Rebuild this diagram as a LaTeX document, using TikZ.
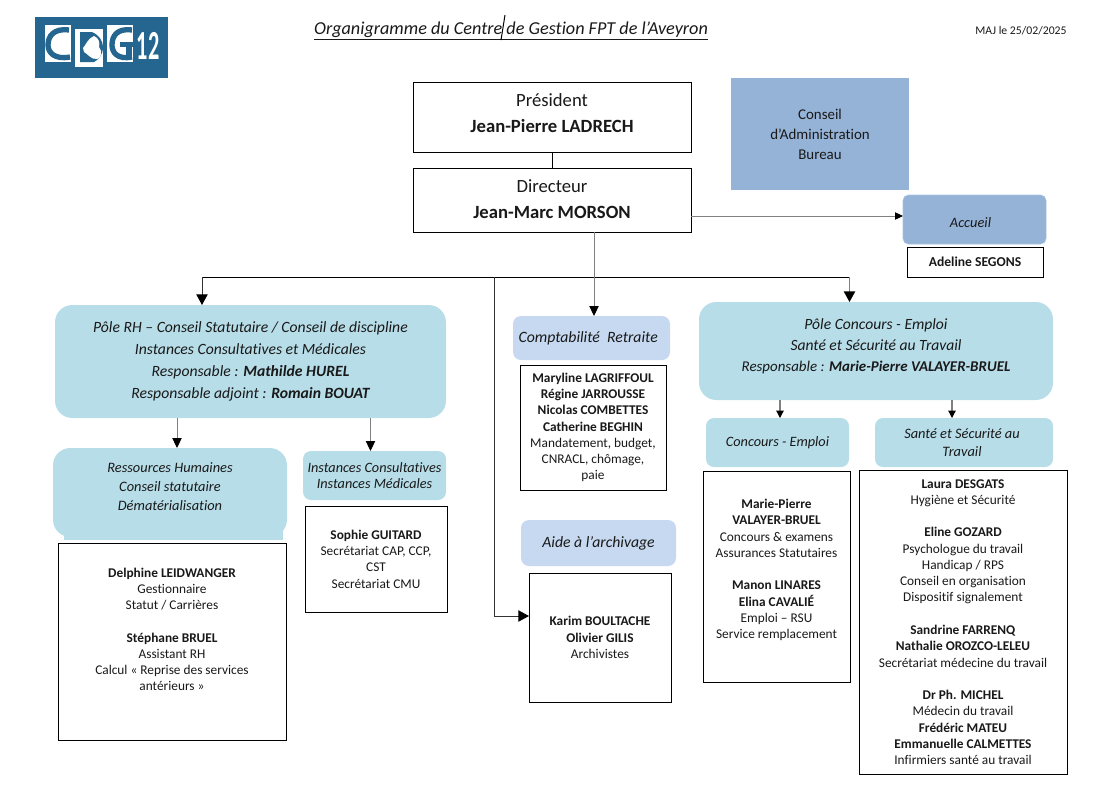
\documentclass[tikz,border=0pt]{standalone}
\usepackage{fontspec}
\setmainfont[Ligatures=NoCommon]{Carlito}
\usetikzlibrary{arrows.meta,calc}
\definecolor{logoblue}{HTML}{24668F}
\definecolor{polefill}{HTML}{B7DDE8}
\definecolor{paleblue}{HTML}{C6D9F1}
\definecolor{midblue}{HTML}{95B3D7}
\newcommand{\orgbox}[7]{\node[#6,minimum width={((#4)-(#2))*0.75pt},minimum height={((#5)-(#3))*0.75pt}] (#1) at ({((#2)+(#4))/2},{((#3)+(#5))/2}) {#7};}
\tikzset{
 base/.style={align=center,inner sep=0pt,outer sep=0pt,text=black!90},
 whitebox/.style={base,draw=black,line width=0.75pt,fill=white,font=\fontsize{10pt}{12.2pt}\selectfont},
 headbox/.style={base,draw=black,line width=0.75pt,fill=white,font=\fontsize{14pt}{19.5pt}\selectfont},
 pole/.style={base,fill=polefill,rounded corners=13pt,font=\fontsize{11.75pt}{16.6pt}\itshape\selectfont},
 polesmall/.style={base,fill=polefill,rounded corners=6pt,font=\fontsize{10.7pt}{12.2pt}\itshape\selectfont},
 paleitem/.style={base,fill=paleblue,rounded corners=6pt,font=\fontsize{11.8pt}{14pt}\itshape\selectfont},
 arrowbig/.style={draw=black!50,line width=1pt,-{Triangle[width=8.5pt,length=8pt,color=black]}},
 arrowmid/.style={draw=black!50,line width=0.75pt,-{Triangle[width=7pt,length=7.5pt,color=black]}},
 arrowsmall/.style={draw=black!50,line width=0.9pt,-{Triangle[width=5.5pt,length=5.5pt,color=black]}},
 plain/.style={draw=black,line width=0.75pt},
}
\begin{document}
\begin{tikzpicture}[x=0.75pt,y=-0.75pt]
\useasboundingbox (0,0) rectangle (1116,789);
% logo
\fill[logoblue] (35,17) rectangle (168,78);
\fill[white] (45,25) rectangle (71,62);
\fill[white] (75,29) rectangle (103,67);
\fill[white] (107,25) rectangle (133,62);
\draw[logoblue,line width=4pt] (69,30) .. controls (54,28) and (48,36) .. (48,45) .. controls (48,52) and (54,60) .. (70,57);
\fill[logoblue] (80,32) -- (92,32) .. controls (99,35) and (103,41) .. (103,47) .. controls (103,55) and (98,60) .. (94,62) -- (80,62) -- cycle;
\fill[white] (83,48) .. controls (86,45) and (88,38) .. (94,36) .. controls (99,38) and (100,43) .. (99,47) .. controls (103,52) and (101,58) .. (97,59) .. controls (91,60) and (87,53) .. (84,52) -- cycle;
\draw[logoblue,line width=4pt] (132,30) .. controls (117,28) and (112,36) .. (112,45) .. controls (112,52) and (117,60) .. (132,57);
\fill[logoblue] (120,42) rectangle (133,47);
\fill[logoblue] (126,42) rectangle (132,58);
\node[base,text=white,font=\fontsize{31pt}{31pt}\bfseries\selectfont,xscale=0.54] (logotext) at (148,46) {12};
% title
\node[base,font=\fontsize{13.65pt}{16pt}\itshape\selectfont] (title) at (511,31) {\underline{Organigramme du Centre de Gestion FPT de l’Aveyron}};
\coordinate (cursortop) at (505,15);
\coordinate (cursorbot) at (501,40);
\draw[plain] (cursortop) -- (cursorbot);
\node[base,font=\fontsize{8.8pt}{10pt}\selectfont] (maj) at (1021,31) {MAJ le 25/02/2025};
% head
\orgbox{pres}{413}{82}{691}{152}{headbox}{Président\\\textbf{Jean-Pierre LADRECH}\\[-13.5pt]\mbox{}}
\orgbox{dir}{413}{168}{691}{232}{headbox}{Directeur\\\textbf{Jean-Marc MORSON}\\[-18pt]\mbox{}}
\orgbox{conseil}{731}{78}{909}{190}{base,fill=midblue,font=\fontsize{11.2pt}{15pt}\selectfont}{Conseil\\d’Administration\\Bureau}
\orgbox{accueil}{903}{195}{1046}{244}{base,fill=midblue,draw=midblue!80!white,rounded corners=4pt,font=\fontsize{10.8pt}{12pt}\itshape\selectfont}{\mbox{}\\Accueil\hspace{6pt}\mbox{}}
\orgbox{adeline}{907}{247}{1043}{277}{whitebox,font=\fontsize{10.2pt}{12pt}\bfseries\selectfont}{Adeline SEGONS}
% poles
\orgbox{polerh}{55}{305}{446}{418}{pole}{Pôle RH – Conseil Statutaire / Conseil de discipline\\Instances Consultatives et Médicales\\Responsable : \textbf{Mathilde HUREL}\\Responsable adjoint : \textbf{Romain BOUAT}}
\fill[polefill] (64,528) rectangle (283,540);
\orgbox{rh}{53}{448}{287}{537}{base,fill=polefill,rounded corners=13pt,font=\fontsize{10.8pt}{14.25pt}\itshape\selectfont}{Ressources Humaines\\Conseil statutaire\\Dématérialisation\\[-6pt]\mbox{}}
\orgbox{inst}{303}{451}{446}{500}{polesmall}{Instances Consultatives\\Instances Médicales}
\orgbox{sophie}{305}{506}{447}{612}{whitebox}{\textbf{Sophie GUITARD}\\Secrétariat CAP, CCP,\\CST\\Secrétariat CMU}
\orgbox{delphine}{58}{543}{286}{740}{whitebox}{\textbf{Delphine LEIDWANGER}\\Gestionnaire\\Statut / Carrières\\[12.2pt]\textbf{Stéphane BRUEL}\\Assistant RH\\Calcul « Reprise des services\\antérieurs »\\[6pt]\mbox{}}
\orgbox{compta}{513}{316}{670}{360}{paleitem}{Comptabilité\ \ Retraite\hspace{5pt}\mbox{}}
\orgbox{maryline}{520}{365}{666}{490}{whitebox}{\textbf{Maryline LAGRIFFOUL}\\\textbf{Régine JARROUSSE}\\\textbf{Nicolas COMBETTES}\\\textbf{Catherine BEGHIN}\\Mandatement, budget,\\CNRACL, chômage,\\paie}
\orgbox{aide}{521}{520}{676}{566}{paleitem}{Aide à l’archivage}
\orgbox{karim}{529}{573}{671}{702}{whitebox}{\textbf{Karim BOULTACHE}\\\textbf{Olivier GILIS}\\Archivistes}
\orgbox{poleconc}{699}{302}{1053}{400}{base,fill=polefill,rounded corners=13pt,font=\fontsize{11.7pt}{15.4pt}\itshape\selectfont}{Pôle Concours - Emploi\\Santé et Sécurité au Travail\\\fontsize{11.2pt}{15.4pt}\selectfont Responsable : \textbf{Marie-Pierre VALAYER-BRUEL}\\[-6.5pt]\mbox{}}
\orgbox{conc}{706}{418}{849}{467}{polesmall}{Concours - Emploi}
\orgbox{sante}{875}{418}{1053}{467}{polesmall,font=\fontsize{10.8pt}{13.5pt}\itshape\selectfont}{Santé et Sécurité au\hspace{3pt}\mbox{}\\Travail\hspace{3pt}\mbox{}}
\orgbox{marie}{703}{471}{850}{682}{whitebox}{\textbf{Marie-Pierre}\\\textbf{VALAYER-BRUEL}\\Concours \& examens\\Assurances Statutaires\\[12.2pt]\textbf{Manon LINARES}\\\textbf{Elina CAVALIÉ}\\Emploi – RSU\\Service remplacement\\[-1pt]\mbox{}}
\orgbox{laura}{859}{470}{1067}{774}{whitebox}{\textbf{Laura DESGATS}\\Hygiène et Sécurité\\[12.2pt]\textbf{Eline GOZARD}\\Psychologue du travail\\Handicap / RPS\\Conseil en organisation\\Dispositif signalement\\[12.2pt]\textbf{Sandrine FARRENQ}\\\textbf{Nathalie OROZCO-LELEU}\\Secrétariat médecine du travail\\[12.2pt]\textbf{Dr Ph. MICHEL}\\Médecin du travail\\\textbf{Frédéric MATEU}\\\textbf{Emmanuelle CALMETTES}\\Infirmiers santé au travail}
% routing coordinates
\coordinate (leftdrop) at (202,277);
\coordinate (rightdrop) at (849.5,277);
\coordinate (archdrop) at (494,277);
\coordinate (archbend) at (494,616);
\coordinate (comptax) at (594,277);
\coordinate (accy) at (800,216);
\coordinate (rhx) at (177,430);
\coordinate (instx) at (370.5,430);
\coordinate (concx) at (780,410);
\coordinate (santex) at (952,410);
% connectors
\draw[plain] (pres.south) -- (dir.north);
\draw[arrowmid,-{Triangle[width=5.5pt,length=6pt,color=black]}] (dir.east |- accy) -- (accueil.west |- accy);
\draw[plain] (leftdrop) -- (rightdrop);
\draw[arrowbig,draw=black!80,line width=0.75pt] (leftdrop) -- (polerh.north -| leftdrop);
\draw[arrowbig] (rightdrop) -- (poleconc.north -| rightdrop);
\draw[arrowmid] (dir.south -| comptax) -- (compta.north -| comptax);
\draw[arrowbig,draw=black!80,line width=0.75pt] (archdrop) -- (archbend) -- (karim.west |- archbend);
\draw[arrowmid] (polerh.south -| rhx) -- (rh.north -| rhx);
\draw[arrowmid] (polerh.south -| instx) -- (inst.north -| instx);
\draw[arrowsmall] (poleconc.south -| concx) -- (conc.north -| concx);
\draw[arrowsmall] (poleconc.south -| santex) -- (sante.north -| santex);
\end{tikzpicture}
\end{document}
